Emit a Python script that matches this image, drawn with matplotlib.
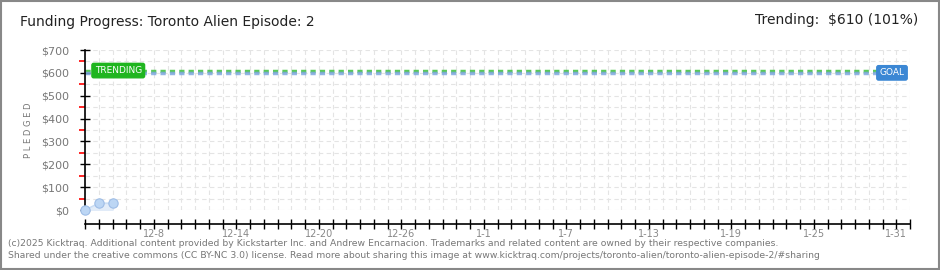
import datetime as dt
import matplotlib
matplotlib.use('Agg')
import matplotlib.pyplot as plt
import matplotlib.dates as mdates
from matplotlib.ticker import MultipleLocator, FuncFormatter, NullFormatter

# pledged data
days = [dt.date(2024, 12, 3), dt.date(2024, 12, 4), dt.date(2024, 12, 5)]
pledged = [0, 30, 30]
goal = 600
trending = 610
trending_pct = 101

x_start = dt.date(2024, 12, 3)
x_end = dt.date(2025, 2, 1)
label_days = [dt.date(2024, 12, 8) + dt.timedelta(days=6 * i) for i in range(10)]

title = 'Funding Progress: Toronto Alien Episode: 2'
footer1 = ('(c)2025 Kicktraq. Additional content provided by Kickstarter Inc. and Andrew Encarnacion. '
           'Trademarks and related content are owned by their respective companies.')
footer2 = ('Shared under the creative commons (CC BY-NC 3.0) license. Read more about sharing this image at '
           'www.kicktraq.com/projects/toronto-alien/toronto-alien-episode-2/#sharing')

gray = '#777777'

fig = plt.figure(figsize=(9.4, 2.7), dpi=100)
fig.patch.set_facecolor('white')
fig.add_artist(plt.Rectangle((0.001, 0.002), 0.998, 0.996, transform=fig.transFigure,
                             fill=False, edgecolor='#888888', linewidth=1.5))

ax = fig.add_axes([85 / 940, 60 / 270, 825 / 940, 160 / 270])
ax.set_xlim(mdates.date2num(x_start), mdates.date2num(x_end))
ax.set_ylim(0, 700)

# grid
ax.xaxis.set_major_locator(mdates.DayLocator())
ax.yaxis.set_major_locator(MultipleLocator(100))
ax.yaxis.set_minor_locator(MultipleLocator(50))
ax.grid(True, which='both', color='#e4e4e4', linestyle=(0, (4, 3)), linewidth=0.8)
ax.set_axisbelow(True)

label_nums = set(round(mdates.date2num(d)) for d in label_days)


def fmt_date(v, pos):
    if round(v) in label_nums:
        d = mdates.num2date(v)
        return f'{d.month}-{d.day}'
    return ''


ax.xaxis.set_major_formatter(FuncFormatter(fmt_date))
ax.yaxis.set_major_formatter(FuncFormatter(lambda v, p: f'${int(v)}'))
ax.yaxis.set_minor_formatter(NullFormatter())

for s in ['top', 'right']:
    ax.spines[s].set_visible(False)
ax.spines['bottom'].set_position(('outward', 10))
ax.spines['left'].set_linewidth(1.2)
ax.spines['bottom'].set_linewidth(1.2)

ax.tick_params(axis='x', direction='inout', length=7, width=1, colors='black',
               labelcolor='#888888', labelsize=7, pad=0)
ax.tick_params(axis='y', which='major', direction='inout', length=7, width=1,
               colors='black', labelcolor=gray, labelsize=8, pad=8)
ax.tick_params(axis='y', which='minor', direction='out', length=4, width=1.2, colors='red')
ax.set_ylabel('P L E D G E D', color=gray, fontsize=6, labelpad=6)

# goal and trending lines
ax.axhline(trending, color='#3cbf3c', linestyle=(0, (1.5, 1.2)), linewidth=2.5, alpha=0.85)
ax.axhline(goal, color='#7fa8e0', linestyle=(0, (1.5, 1.2)), linewidth=2.5, alpha=0.85)

# pledged series
xs = mdates.date2num(days)
ax.fill_between(xs, pledged, 0, color='#dde9f8', alpha=0.8, zorder=3)
ax.plot(xs, pledged, color='#c8dcf4', linewidth=1, zorder=4)
ax.scatter(xs, pledged, s=45, color='#bcd6f4', edgecolor='#9ebde6', linewidth=0.8,
           zorder=5, clip_on=False)

# labels on lines
ax.text(mdates.date2num(x_start) + 0.7, trending, 'TRENDING', color='white', fontsize=6.5,
        ha='left', va='center', zorder=6,
        bbox=dict(boxstyle='round,pad=0.3,rounding_size=0.2', fc='#1fb51f', ec='#1fb51f'))
ax.text(mdates.date2num(x_end) - 0.4, goal, 'GOAL', color='white', fontsize=6.5,
        ha='right', va='center', zorder=6,
        bbox=dict(boxstyle='round,pad=0.3,rounding_size=0.2', fc='#3b87d4', ec='#3b87d4'))

# header and footer
fig.text(20 / 940, 1 - 22 / 270, title, fontsize=10, color='#222222', ha='left', va='center')
fig.text(918 / 940, 1 - 20 / 270, f'Trending:  ${trending} ({trending_pct}%)', fontsize=10,
         color='#222222', ha='right', va='center')
fig.text(8 / 940, 1 - 243 / 270, footer1, fontsize=6.7, color=gray, ha='left', va='center')
fig.text(8 / 940, 1 - 256 / 270, footer2, fontsize=6.7, color=gray, ha='left', va='center')

fig.savefig('out.png', dpi=100, facecolor='white')
